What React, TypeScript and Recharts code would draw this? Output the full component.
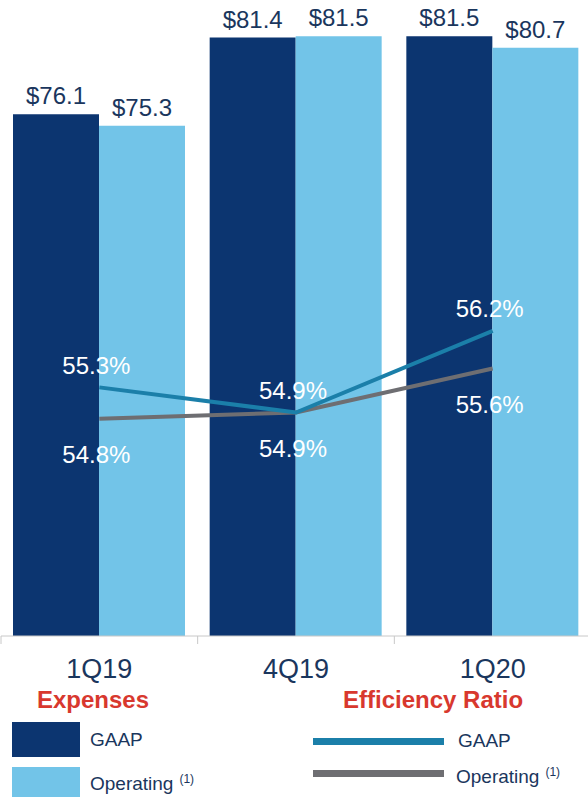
import React from "react";
import { ComposedChart, Bar, Line, XAxis, YAxis, LabelList } from "recharts";

const quarters = ["1Q19", "4Q19", "1Q20"];
const gaapExpenses = [76.1, 81.4, 81.5];
const operatingExpenses = [75.3, 81.5, 80.7];
const gaapRatio = [55.3, 54.9, 56.2];
const operatingRatio = [54.8, 54.9, 55.6];

const data = quarters.map((q, i) => ({
  quarter: q,
  gaapExp: gaapExpenses[i],
  opExp: operatingExpenses[i],
  gaapRatio: gaapRatio[i],
  opRatio: operatingRatio[i],
}));

const NAVY = "#0c3570";
const LIGHT = "#72c4e8";
const TEAL = "#1b7fa9";
const GRAY = "#6e6e72";
const RED = "#d8382e";
const TEXT = "#1a365d";

const W = 588;
const H = 797;
const margin = { top: 0, right: -3, left: 1, bottom: 116 };
const band = (W - margin.left - margin.right) / quarters.length;

const QuarterTick = (props: any) => {
  const { x, y, payload } = props;
  const bx = x - band / 2;
  return (
    <g>
      <line x1={bx} x2={bx} y1={y} y2={y + 8} stroke="#c8c8c8" strokeWidth={1} />
      <text x={x} y={y + 42} textAnchor="middle" fill={TEXT} fontSize={27}>
        {payload.value}
      </text>
    </g>
  );
};

const ratioLabel = (dy: number) => (props: any) => {
  const { x, y, value } = props;
  return (
    <text
      x={x - 3}
      y={y + dy}
      textAnchor="middle"
      dominantBaseline="central"
      fill="#ffffff"
      fontSize={24}
    >
      {`${value}%`}
    </text>
  );
};

const expenseLegend = [
  { name: "GAAP", note: "", color: NAVY },
  { name: "Operating", note: "(1)", color: LIGHT },
];
const ratioLegend = [
  { name: "GAAP", note: "", color: TEAL },
  { name: "Operating", note: "(1)", color: GRAY },
];

const App: React.FC = () => {
  return (
    <div
      style={{
        position: "absolute",
        left: 0,
        top: 0,
        width: W,
        height: H,
        overflow: "hidden",
        background: "#ffffff",
        fontFamily: "'Liberation Sans', Arial, sans-serif",
      }}
    >
      <ComposedChart width={W} height={H} data={data} margin={margin} barGap={0} barCategoryGap={12}>
        <XAxis
          dataKey="quarter"
          height={45}
          tickSize={0}
          tickMargin={0}
          tickLine={false}
          axisLine={{ stroke: "#c8c8c8" }}
          tick={<QuarterTick />}
          interval={0}
        />
        <YAxis yAxisId="exp" hide domain={[40, 84]} />
        <YAxis yAxisId="ratio" hide orientation="right" domain={[51.34, 61.47]} />
        <Bar yAxisId="exp" dataKey="gaapExp" fill={NAVY} isAnimationActive={false}>
          <LabelList
            dataKey="gaapExp"
            position="top"
            offset={10}
            fill={TEXT}
            fontSize={24}
            formatter={(v: any) => `$${v}`}
          />
        </Bar>
        <Bar yAxisId="exp" dataKey="opExp" fill={LIGHT} isAnimationActive={false}>
          <LabelList
            dataKey="opExp"
            position="top"
            offset={10}
            fill={TEXT}
            fontSize={24}
            formatter={(v: any) => `$${v}`}
          />
        </Bar>
        <Line
          yAxisId="ratio"
          dataKey="opRatio"
          stroke={GRAY}
          strokeWidth={4}
          dot={false}
          isAnimationActive={false}
        >
          <LabelList dataKey="opRatio" content={ratioLabel(36)} />
        </Line>
        <Line
          yAxisId="ratio"
          dataKey="gaapRatio"
          stroke={TEAL}
          strokeWidth={4}
          dot={false}
          isAnimationActive={false}
        >
          <LabelList dataKey="gaapRatio" content={ratioLabel(-22)} />
        </Line>
      </ComposedChart>

      <div
        style={{
          position: "absolute",
          left: 37,
          top: 688,
          fontSize: 24,
          lineHeight: "24px",
          fontWeight: "bold",
          color: RED,
        }}
      >
        Expenses
      </div>
      <div
        style={{
          position: "absolute",
          left: 343,
          top: 688,
          fontSize: 24,
          lineHeight: "24px",
          fontWeight: "bold",
          color: RED,
        }}
      >
        Efficiency Ratio
      </div>

      {expenseLegend.map((s, i) => (
        <React.Fragment key={"e" + i}>
          <div
            style={{
              position: "absolute",
              left: 12,
              top: 722 + i * 45,
              width: 68,
              height: 35,
              background: s.color,
            }}
          />
          <div
            style={{
              position: "absolute",
              left: 90,
              top: 730 + i * 39,
              fontSize: 19,
              lineHeight: "20px",
              color: TEXT,
              whiteSpace: "nowrap",
            }}
          >
            {s.name}
            {s.note && (
              <span style={{ fontSize: 12, verticalAlign: "super", marginLeft: 6 }}>{s.note}</span>
            )}
          </div>
        </React.Fragment>
      ))}

      {ratioLegend.map((s, i) => (
        <React.Fragment key={"r" + i}>
          <div
            style={{
              position: "absolute",
              left: 313,
              top: 738 + i * 32,
              width: 131,
              height: 7,
              background: s.color,
            }}
          />
          <div
            style={{
              position: "absolute",
              left: 458 - i * 2,
              top: 731 + i * 31,
              fontSize: 19,
              lineHeight: "20px",
              color: TEXT,
              whiteSpace: "nowrap",
            }}
          >
            {s.name}
            {s.note && (
              <span style={{ fontSize: 12, verticalAlign: "super", marginLeft: 6 }}>{s.note}</span>
            )}
          </div>
        </React.Fragment>
      ))}
    </div>
  );
};

export default App;
